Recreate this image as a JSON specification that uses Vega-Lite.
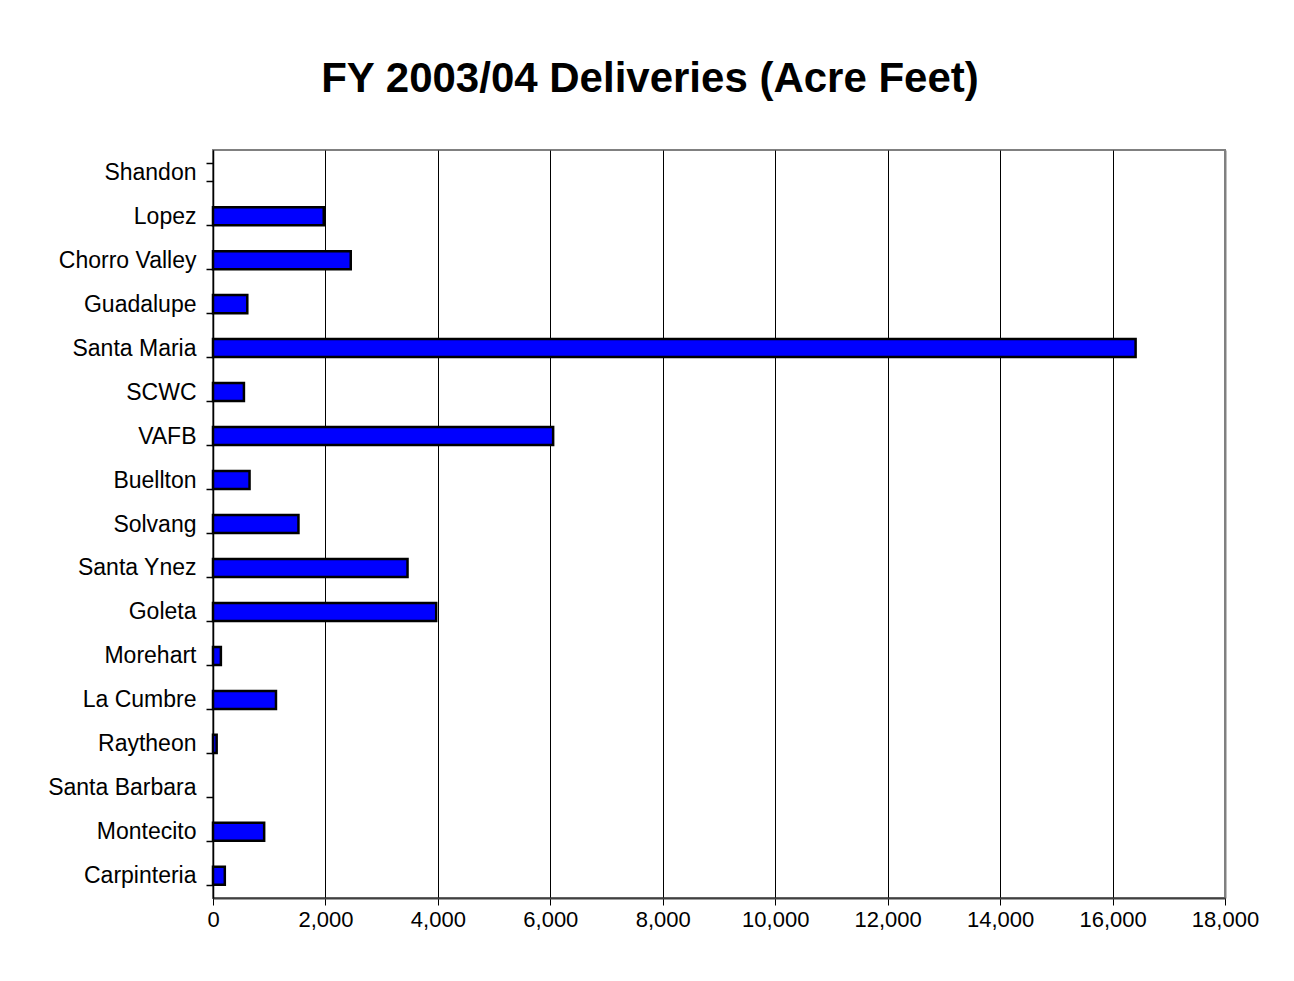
{
  "$schema": "https://vega.github.io/schema/vega-lite/v6.json",
  "autosize": "none",
  "width": 1012,
  "height": 748,
  "padding": {"left": 213, "top": 150, "right": 69, "bottom": 83},
  "background": "white",
  "title": {
    "text": "FY 2003/04 Deliveries (Acre Feet)",
    "font": "Liberation Sans",
    "fontSize": 42,
    "fontWeight": "bold",
    "color": "black",
    "anchor": "middle",
    "dx": -69,
    "offset": 38
  },
  "data": {
    "values": [
      {"district": "Shandon", "af": 0},
      {"district": "Lopez", "af": 1970},
      {"district": "Chorro Valley", "af": 2450},
      {"district": "Guadalupe", "af": 610},
      {"district": "Santa Maria", "af": 16410},
      {"district": "SCWC", "af": 550},
      {"district": "VAFB", "af": 6050},
      {"district": "Buellton", "af": 650},
      {"district": "Solvang", "af": 1520},
      {"district": "Santa Ynez", "af": 3460},
      {"district": "Goleta", "af": 3970},
      {"district": "Morehart", "af": 140},
      {"district": "La Cumbre", "af": 1120},
      {"district": "Raytheon", "af": 65},
      {"district": "Santa Barbara", "af": 0},
      {"district": "Montecito", "af": 910},
      {"district": "Carpinteria", "af": 210}
    ]
  },
  "mark": {"type": "bar", "color": "#0000FF", "stroke": "black", "strokeWidth": 2.5, "cornerRadius": 0},
  "encoding": {
    "y": {
      "field": "district",
      "type": "nominal",
      "sort": null,
      "scale": {"paddingInner": 0.59, "paddingOuter": 0.3},
      "axis": {
        "title": null,
        "labelFont": "Liberation Sans",
        "labelFontSize": 23,
        "labelColor": "black",
        "labelPadding": 10,
        "tickBand": "extent",
        "tickSize": 7,
        "tickColor": "black",
        "tickWidth": 1.5,
        "domainColor": "black",
        "domainWidth": 1.5,
        "grid": false
      }
    },
    "x": {
      "field": "af",
      "type": "quantitative",
      "scale": {"domain": [0, 18000], "nice": false},
      "axis": {
        "title": null,
        "values": [0, 2000, 4000, 6000, 8000, 10000, 12000, 14000, 16000, 18000],
        "format": ",d",
        "labelFont": "Liberation Sans",
        "labelFontSize": 22,
        "labelColor": "black",
        "labelPadding": 4,
        "tickSize": 7,
        "tickColor": "black",
        "domainColor": "#404040",
        "domainWidth": 2,
        "grid": true,
        "gridColor": {"condition": {"test": "datum.value >= 18000", "value": "#808080"}, "value": "black"},
        "gridWidth": {"condition": {"test": "datum.value >= 18000", "value": 2}, "value": 1},
        "gridOpacity": 1,
        "labelFlush": false
      }
    },
    "strokeOpacity": {
      "condition": {"test": "datum.af <= 0", "value": 0},
      "value": 1
    }
  },
  "config": {
    "view": {"stroke": "#808080", "strokeWidth": 2}
  }
}
